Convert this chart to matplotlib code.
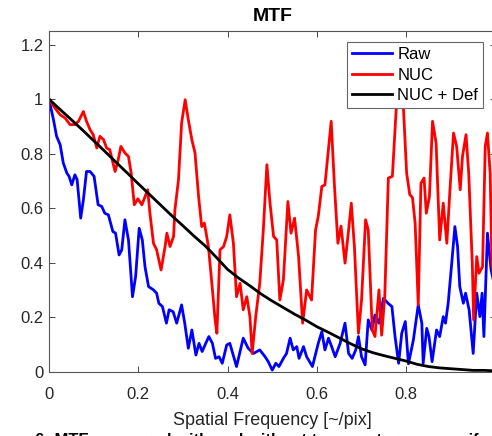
import matplotlib.pyplot as plt
from matplotlib.ticker import FormatStrFormatter

plt.rcParams['font.family'] = ['Liberation Sans', 'DejaVu Sans']

# Raw
raw_x = [0.000, 0.010, 0.017, 0.025, 0.032, 0.040, 0.045, 0.051, 0.058, 0.063,
         0.071, 0.077, 0.084, 0.092, 0.101, 0.110, 0.118, 0.125, 0.133, 0.143,
         0.149, 0.157, 0.163, 0.170, 0.178, 0.187, 0.194, 0.202, 0.209, 0.215,
         0.223, 0.234, 0.241, 0.246, 0.254, 0.263, 0.269, 0.278, 0.286, 0.297,
         0.304, 0.312, 0.320, 0.329, 0.336, 0.343, 0.351, 0.358, 0.366, 0.373,
         0.381, 0.388, 0.398, 0.405, 0.420, 0.435, 0.446, 0.458, 0.472, 0.484,
         0.491, 0.500, 0.508, 0.515, 0.525, 0.532, 0.540, 0.547, 0.555, 0.560,
         0.570, 0.577, 0.590, 0.603, 0.611, 0.618, 0.626, 0.633, 0.641, 0.652,
         0.663, 0.671, 0.679, 0.687, 0.693, 0.700, 0.708, 0.715, 0.723, 0.730,
         0.739, 0.749, 0.760, 0.768, 0.775, 0.783, 0.790, 0.798, 0.805, 0.816,
         0.827, 0.835, 0.838, 0.846, 0.851, 0.858, 0.868, 0.875, 0.883, 0.888,
         0.894, 0.902, 0.909, 0.915, 0.920, 0.928, 0.933, 0.941, 0.950, 0.958,
         0.965, 0.970, 0.974, 0.982, 0.990, 1.000]
raw_y = [1.000, 0.925, 0.864, 0.833, 0.766, 0.729, 0.717, 0.686, 0.723, 0.705,
         0.564, 0.631, 0.735, 0.735, 0.717, 0.613, 0.607, 0.582, 0.576, 0.515,
         0.509, 0.429, 0.448, 0.558, 0.484, 0.276, 0.350, 0.527, 0.484, 0.386,
         0.313, 0.301, 0.289, 0.252, 0.240, 0.179, 0.228, 0.221, 0.179, 0.246,
         0.179, 0.087, 0.154, 0.062, 0.105, 0.075, 0.105, 0.130, 0.105, 0.050,
         0.056, 0.032, 0.099, 0.105, 0.020, 0.124, 0.087, 0.068, 0.081, 0.056,
         0.038, 0.007, 0.032, 0.020, 0.050, 0.068, 0.124, 0.081, 0.093, 0.050,
         0.093, 0.056, 0.020, 0.105, 0.148, 0.081, 0.124, 0.093, 0.056, 0.105,
         0.179, 0.068, 0.050, 0.081, 0.130, 0.056, 0.026, 0.191, 0.154, 0.209,
         0.179, 0.270, 0.251, 0.240, 0.130, 0.032, 0.142, 0.185, 0.030, 0.117,
         0.246, 0.179, 0.032, 0.160, 0.130, 0.038, 0.154, 0.130, 0.203, 0.179,
         0.252, 0.399, 0.533, 0.460, 0.313, 0.252, 0.289, 0.227, 0.068, 0.289,
         0.203, 0.289, 0.130, 0.509, 0.375, 0.300]

# NUC
nuc_x = [0.000, 0.013, 0.025, 0.036, 0.047, 0.058, 0.066, 0.077, 0.084, 0.092,
         0.099, 0.107, 0.114, 0.122, 0.129, 0.136, 0.148, 0.155, 0.161, 0.170,
         0.178, 0.184, 0.191, 0.199, 0.208, 0.215, 0.221, 0.226, 0.234, 0.241,
         0.251, 0.260, 0.264, 0.271, 0.279, 0.282, 0.290, 0.297, 0.305, 0.312,
         0.320, 0.327, 0.335, 0.342, 0.348, 0.357, 0.364, 0.372, 0.376, 0.383,
         0.391, 0.398, 0.405, 0.413, 0.420, 0.428, 0.435, 0.443, 0.450, 0.455,
         0.463, 0.472, 0.480, 0.488, 0.495, 0.503, 0.510, 0.517, 0.525, 0.535,
         0.542, 0.550, 0.559, 0.568, 0.577, 0.588, 0.597, 0.603, 0.611, 0.618,
         0.626, 0.632, 0.639, 0.647, 0.654, 0.663, 0.671, 0.677, 0.684, 0.693,
         0.700, 0.709, 0.715, 0.724, 0.730, 0.739, 0.745, 0.752, 0.760, 0.769,
         0.778, 0.786, 0.794, 0.801, 0.808, 0.814, 0.820, 0.827, 0.833, 0.840,
         0.845, 0.852, 0.859, 0.867, 0.875, 0.883, 0.891, 0.898, 0.906, 0.913,
         0.921, 0.926, 0.934, 0.940, 0.948, 0.951, 0.958, 0.963, 0.971, 0.977,
         0.982, 0.988, 0.992, 1.000]
nuc_y = [1.000, 0.968, 0.943, 0.931, 0.907, 0.907, 0.919, 0.955, 0.919, 0.888,
         0.870, 0.821, 0.864, 0.852, 0.821, 0.815, 0.735, 0.778, 0.827, 0.803,
         0.790, 0.729, 0.613, 0.635, 0.613, 0.643, 0.668, 0.582, 0.472, 0.448,
         0.374, 0.460, 0.509, 0.460, 0.497, 0.594, 0.705, 0.913, 0.998, 0.925,
         0.851, 0.803, 0.643, 0.533, 0.546, 0.460, 0.338, 0.191, 0.142, 0.448,
         0.460, 0.497, 0.576, 0.472, 0.276, 0.325, 0.228, 0.276, 0.203, 0.068,
         0.203, 0.325, 0.521, 0.760, 0.619, 0.497, 0.484, 0.264, 0.338, 0.625,
         0.509, 0.564, 0.423, 0.179, 0.301, 0.264, 0.521, 0.570, 0.680, 0.686,
         0.821, 0.919, 0.692, 0.472, 0.535, 0.399, 0.521, 0.619, 0.460, 0.142,
         0.264, 0.558, 0.521, 0.154, 0.130, 0.301, 0.135, 0.276, 0.711, 0.717,
         0.974, 1.100, 0.961, 0.729, 0.650, 0.640, 0.546, 0.246, 0.692, 0.711,
         0.582, 0.643, 0.919, 0.839, 0.484, 0.619, 0.472, 0.668, 0.876, 0.827,
         0.668, 0.790, 0.870, 0.729, 0.399, 0.191, 0.423, 0.362, 0.386, 0.827,
         0.876, 0.729, 0.399, 0.300]

# NUC + Def
def_x = [0.000, 0.025, 0.050, 0.075, 0.100, 0.125, 0.150, 0.175, 0.200, 0.225,
         0.250, 0.275, 0.300, 0.325, 0.350, 0.375, 0.400, 0.425, 0.450, 0.475,
         0.500, 0.525, 0.550, 0.575, 0.600, 0.625, 0.650, 0.675, 0.700, 0.725,
         0.750, 0.775, 0.800, 0.825, 0.850, 0.875, 0.900, 0.925, 0.950, 0.975,
         1.000]
def_y = [1.000, 0.962, 0.925, 0.887, 0.848, 0.809, 0.769, 0.730, 0.690, 0.651,
         0.612, 0.573, 0.536, 0.498, 0.462, 0.420, 0.376, 0.344, 0.316, 0.286,
         0.260, 0.236, 0.212, 0.190, 0.166, 0.146, 0.125, 0.104, 0.085, 0.071,
         0.060, 0.050, 0.040, 0.028, 0.020, 0.015, 0.012, 0.009, 0.006, 0.006,
         0.004]

fig = plt.figure(figsize=(4.92, 4.36), dpi=100)
ax = fig.add_axes([49 / 492, 64 / 436, 446.5 / 492, 341 / 436])

ax.plot(raw_x, raw_y, color='#0000ff', lw=2.0, label='Raw')
ax.plot(nuc_x, nuc_y, color='#ff0000', lw=2.0, label='NUC')
ax.plot(def_x, def_y, color='black', lw=2.0, label='NUC + Def')

ax.set_xlim(0, 1)
ax.set_ylim(0, 1.25)
ax.set_xticks([0, 0.2, 0.4, 0.6, 0.8, 1.0])
ax.set_yticks([0, 0.2, 0.4, 0.6, 0.8, 1.0, 1.2])
ax.xaxis.set_major_formatter(FormatStrFormatter('%g'))
ax.yaxis.set_major_formatter(FormatStrFormatter('%g'))
ax.tick_params(direction='in', top=True, right=True, length=4, width=0.7,
               color='#444444', labelcolor='#262626', labelsize=12)
ax.tick_params(axis='x', pad=11)
ax.tick_params(axis='y', pad=4)
for s in ax.spines.values():
    s.set_color('#555555')
    s.set_linewidth(0.8)

ax.set_title('MTF', fontsize=14, fontweight='bold', pad=7)
ax.set_xlabel('Spatial Frequency [~/pix]', fontsize=13, color='#262626', labelpad=7)

leg = ax.legend(loc='upper left', bbox_to_anchor=(0.667, 0.968), borderaxespad=0,
                fancybox=False, framealpha=1, edgecolor='#666666', fontsize=12,
                handlelength=2.4, handletextpad=0.3, labelspacing=0.32,
                borderpad=0.32)
leg.get_frame().set_linewidth(0.8)

fig.text(35 / 492, 1 - 433 / 436, '6: MTF measured with and without temperature non-uniformity',
         fontsize=12, fontweight='bold', va='top', ha='left')

fig.savefig('out.png', dpi=100)
